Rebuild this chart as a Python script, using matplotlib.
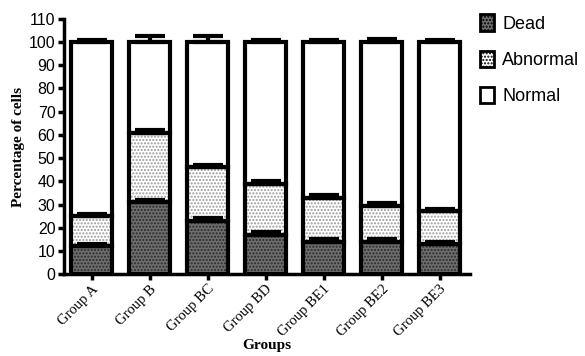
import matplotlib.pyplot as plt
from matplotlib.patches import Patch
import numpy as np

groups = ['Group A', 'Group B', 'Group BC', 'Group BD', 'Group BE1', 'Group BE2', 'Group BE3']
dead = [12, 31, 23, 17, 14, 14, 13]
dead_err = [1, 1, 1, 1, 1, 1, 1]
abnormal = [13, 30, 23, 22, 19, 15.5, 14]
abnormal_err = [1, 1, 1, 1, 1, 1, 1]
normal = [100 - d - a for d, a in zip(dead, abnormal)]
total_err = [1, 2.5, 2.5, 1, 1, 1.5, 1]

def main():
    fig = plt.figure(figsize=(5.85, 3.56), dpi=100)
    ax = fig.add_axes([0.109, 0.230, 0.694, 0.717])
    x = np.arange(len(groups))
    w = 0.7
    lw = 3

    d = np.array(dead)
    ab = np.array(abnormal)
    nm = np.array(normal)

    # fills with hatches
    ax.bar(x, d, w, color='#6e6e6e', hatch='.....', edgecolor='#2a2a2a', linewidth=0, zorder=1)
    ax.bar(x, ab, w, bottom=d, color='white', hatch='.....', edgecolor='#9a9a9a', linewidth=0, zorder=1)
    ax.bar(x, nm, w, bottom=d + ab, color='white', linewidth=0, zorder=1)

    # error bars (upper only)
    for tops, err in [(d, dead_err), (d + ab, abnormal_err), (d + ab + nm, total_err)]:
        ax.errorbar(x, tops, yerr=[np.zeros(len(x)), err], fmt='none', ecolor='black',
                    elinewidth=lw, capsize=11, capthick=lw, zorder=3)

    # outlines
    ax.bar(x, d, w, facecolor='none', edgecolor='black', linewidth=lw, zorder=2)
    ax.bar(x, ab, w, bottom=d, facecolor='none', edgecolor='black', linewidth=lw, zorder=2)
    ax.bar(x, nm, w, bottom=d + ab, facecolor='none', edgecolor='black', linewidth=lw, zorder=2)

    ax.set_xlim(-0.48, 6.52)
    ax.set_ylim(0, 110)
    ax.set_yticks(range(0, 111, 10))
    ax.set_xticks(x)
    ax.set_xticklabels(groups, rotation=45, ha='right', rotation_mode='anchor',
                       family='Liberation Serif', fontsize=10.5)
    for lab in ax.get_yticklabels():
        lab.set_family('Liberation Sans')
        lab.set_fontsize(11.5)
    ax.spines['top'].set_visible(False)
    ax.spines['right'].set_visible(False)
    ax.spines['left'].set_linewidth(2.5)
    ax.spines['bottom'].set_linewidth(2.5)
    ax.tick_params(width=2.5, length=4, pad=2)
    ax.set_ylabel('Percentage of cells', family='Liberation Serif', fontweight='bold', fontsize=11, labelpad=3)
    ax.set_xlabel('Groups', family='Liberation Serif', fontweight='bold', fontsize=11, labelpad=0)

    handles = [Patch(facecolor='#6e6e6e', hatch='.....', edgecolor='black', linewidth=2),
               Patch(facecolor='white', hatch='.....', edgecolor='black', linewidth=2),
               Patch(facecolor='white', edgecolor='black', linewidth=2)]
    fig.legend(handles, ['Dead', 'Abnormal', 'Normal'], loc='upper left',
               bbox_to_anchor=(0.792, 1.005), frameon=False, handlelength=0.8, handleheight=1.0,
               handletextpad=0.45, labelspacing=1.0, prop={'family': 'Liberation Sans', 'size': 13})

    fig.savefig('out.png', dpi=100)

if __name__ == '__main__':
    main()
